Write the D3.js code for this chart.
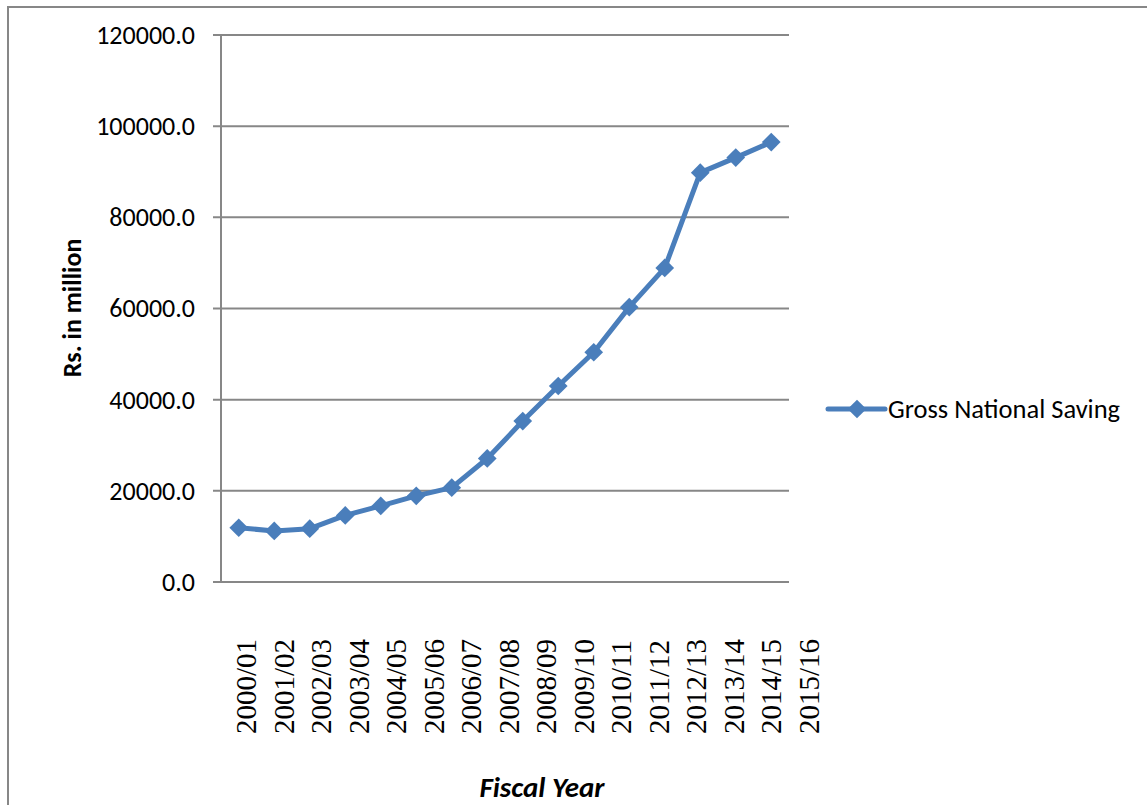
<html>
<head>
<script src="https://d3js.org/d3.v7.min.js"></script>
<style>
  body { margin: 0; background: #fff; }
</style>
</head>
<body>
<div id="chart"></div>
<script>
const years = ["2000/01","2001/02","2002/03","2003/04","2004/05","2005/06","2006/07","2007/08",
               "2008/09","2009/10","2010/11","2011/12","2012/13","2013/14","2014/15","2015/16"];
const saving = [11900, 11200, 11700, 14600, 16700, 18900, 20700, 27100,
                35300, 43000, 50400, 60300, 68900, 89800, 93100, 96500];
const yTicks = [0, 20000, 40000, 60000, 80000, 100000, 120000];
const seriesName = "Gross National Saving";

const W = 1147, H = 805;
const plot = {left: 221, right: 789, top: 35, bottom: 582};
const grey = "#878787", blue = "#4a7ebb";
const sans = "Carlito, Calibri, 'Open Sans', sans-serif";

const svg = d3.select("#chart").append("svg")
    .attr("width", W).attr("height", H);

// outer frame
svg.append("rect")
    .attr("x", 8).attr("y", 7)
    .attr("width", W + 20).attr("height", H + 20)
    .attr("fill", "none").attr("stroke", grey).attr("stroke-width", 2);

const x = d3.scaleBand().domain(years).range([plot.left, plot.right]);
// category labels sit a little to the right of the points, as in the original
const xLab = d3.scalePoint().domain(years).range([246, 809]);
const y = d3.scaleLinear().domain([0, 120000]).range([plot.bottom, plot.top]);

// gridlines + y ticks
svg.append("g").selectAll("line")
  .data(yTicks).join("line")
    .attr("x1", plot.left - 8).attr("x2", plot.right)
    .attr("y1", d => y(d)).attr("y2", d => y(d))
    .attr("stroke", grey).attr("stroke-width", 2);

svg.append("line")
    .attr("x1", plot.left).attr("x2", plot.left)
    .attr("y1", plot.top).attr("y2", plot.bottom)
    .attr("stroke", grey).attr("stroke-width", 2);

svg.append("g").selectAll("text")
  .data(yTicks).join("text")
    .attr("x", 195).attr("y", d => y(d))
    .attr("dy", "0.34em")
    .attr("text-anchor", "end")
    .style("font-family", sans)
    .style("font-size", "26px")
    .text(d => d.toFixed(1));

// x labels (rotated)
svg.append("g").selectAll("text")
  .data(years).join("text")
    .attr("transform", d => "translate(" + xLab(d) + ",734) rotate(-90)")
    .attr("text-anchor", "start")
    .attr("dominant-baseline", "central")
    .style("font-family", "'Liberation Serif', 'Times New Roman', serif")
    .style("font-size", "29px")
    .text(d => d);

// axis titles
svg.append("text")
    .attr("transform", "translate(72,308) rotate(-90)")
    .attr("text-anchor", "middle")
    .attr("dominant-baseline", "central")
    .style("font-family", sans)
    .style("font-size", "26px").style("font-weight", "bold")
    .text("Rs. in million");

svg.append("text")
    .attr("x", 542).attr("y", 797)
    .attr("text-anchor", "middle")
    .style("font-family", sans)
    .style("font-size", "29px").style("font-weight", "bold").style("font-style", "italic")
    .text("Fiscal Year");

// series
const cx = (d, i) => x(years[i]) + x.bandwidth() / 2;
const line = d3.line().x(cx).y(d => y(d));

svg.append("path")
    .datum(saving)
    .attr("d", line)
    .attr("fill", "none").attr("stroke", blue)
    .attr("stroke-width", 5).attr("stroke-linejoin", "round");

const marker = d3.symbol().type(d3.symbolSquare).size(175);
svg.append("g").selectAll("path")
  .data(saving).join("path")
    .attr("transform", (d, i) => "translate(" + cx(d, i) + "," + y(d) + ") rotate(45)")
    .attr("d", marker)
    .attr("fill", blue);

// legend
const lg = svg.append("g").attr("transform", "translate(828,409)");
lg.append("line").attr("x1", 0).attr("x2", 57)
    .attr("stroke", blue).attr("stroke-width", 5).attr("stroke-linecap", "round");
lg.append("path").attr("transform", "translate(29,0) rotate(45)")
    .attr("d", marker)
    .attr("fill", blue);
lg.append("text").attr("x", 60).attr("dy", "0.34em")
    .style("font-family", sans)
    .style("font-size", "26.5px")
    .text(seriesName);
</script>
</body>
</html>
